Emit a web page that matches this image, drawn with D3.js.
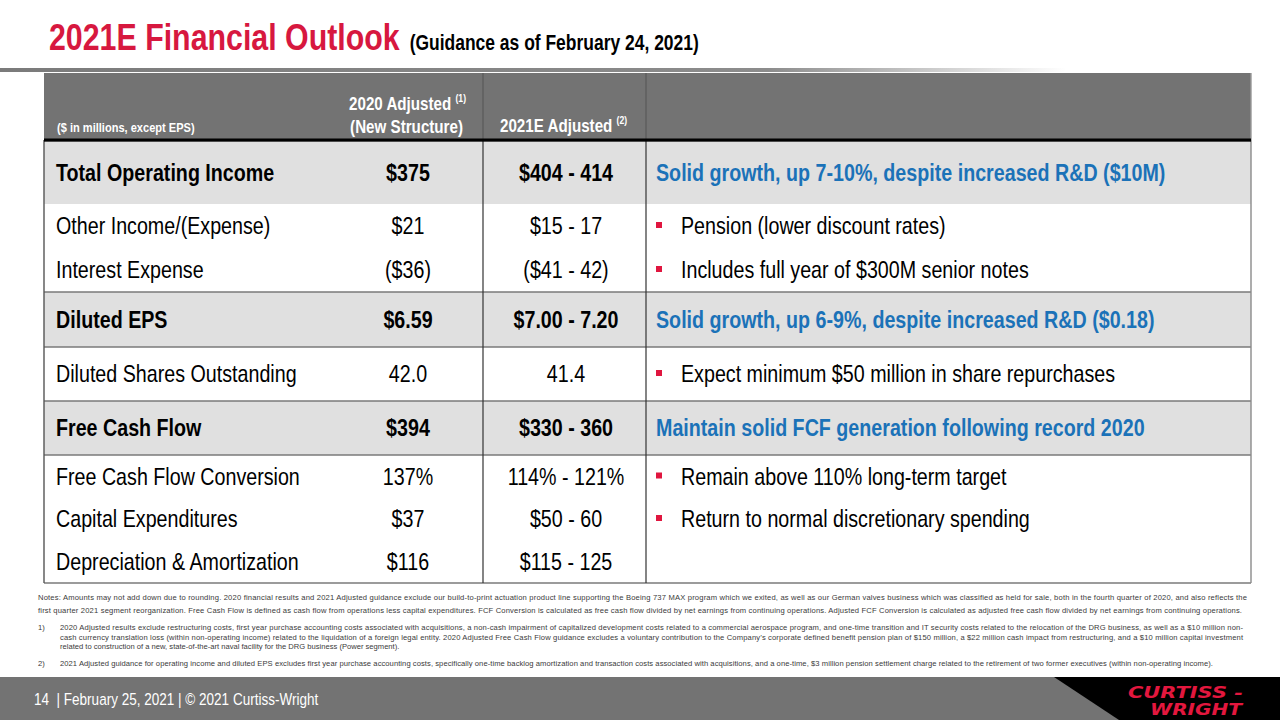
<!DOCTYPE html>
<html>
<head>
<meta charset="utf-8">
<script src="https://cdn.jsdelivr.net/npm/d3@7"></script>
<style>
  html, body { margin: 0; padding: 0; background: #fff; overflow: hidden; }
  svg { display: block; }
</style>
</head>
<body>
<svg id="slide" width="1280" height="720"></svg>
<script>
// ---- table content ----
const rowLabels = [
  'Total Operating Income', 'Other Income/(Expense)', 'Interest Expense',
  'Diluted EPS', 'Diluted Shares Outstanding', 'Free Cash Flow',
  'Free Cash Flow Conversion', 'Capital Expenditures', 'Depreciation & Amortization'
];
const values2020 = ['$375', '$21', '($36)', '$6.59', '42.0', '$394', '137%', '$37', '$116'];
const values2021 = ['$404 - 414', '$15 - 17', '($41 - 42)', '$7.00 - 7.20', '41.4', '$330 - 360', '114% - 121%', '$50 - 60', '$115 - 125'];
const comments = [
  'Solid growth, up 7-10%, despite increased R&D ($10M)',
  'Pension (lower discount rates)',
  'Includes full year of $300M senior notes',
  'Solid growth, up 6-9%, despite increased R&D ($0.18)',
  'Expect minimum $50 million in share repurchases',
  'Maintain solid FCF generation following record 2020',
  'Remain above 110% long-term target',
  'Return to normal discretionary spending',
  ''
];
const keyRows = [true, false, false, true, false, true, false, false, false];

const titleText = '2021E Financial Outlook';
const subtitleText = '(Guidance as of February 24, 2021)';
const footerText = '14  | February 25, 2021 | \u00A9 2021 Curtiss-Wright';

const noteLines = [
  { lead: '', text: 'Notes: Amounts may not add down due to rounding. 2020 financial results and 2021 Adjusted guidance exclude our build-to-print actuation product line supporting the Boeing 737 MAX program which we exited, as well as our German valves business which was classified as held for sale, both in the fourth quarter of 2020, and also reflects the', full: true },
  { lead: '', text: 'first quarter 2021 segment reorganization. Free Cash Flow is defined as cash flow from operations less capital expenditures. FCF Conversion is calculated as free cash flow divided by net earnings from continuing operations. Adjusted FCF Conversion is calculated as adjusted free cash flow divided by net earnings from continuing operations.', full: true },
  { lead: '1)', text: '2020 Adjusted results exclude restructuring costs, first year purchase accounting costs associated with acquisitions, a non-cash impairment of capitalized development costs related to a commercial aerospace program, and one-time transition and IT security costs related to the relocation of the DRG business, as well as a $10 million non-', full: true },
  { lead: '', text: 'cash currency translation loss (within non-operating income) related to the liquidation of a foreign legal entity. 2020 Adjusted Free Cash Flow guidance excludes a voluntary contribution to the Company\u2019s corporate defined benefit pension plan of $150 million, a $22 million cash impact from restructuring, and a $10 million capital investment', full: true },
  { lead: '', text: 'related to construction of a new, state-of-the-art naval facility for the DRG business (Power segment).', full: false },
  { lead: '2)', text: '2021 Adjusted guidance for operating income and diluted EPS excludes first year purchase accounting costs, specifically one-time backlog amortization and transaction costs associated with acquisitions, and a one-time, $3 million pension settlement charge related to the retirement of two former executives (within non-operating income).', full: true }
];

// ---- layout ----
const W = 1280, H = 720;
const NARROW = 0.82;                 // Arial Narrow ~ Arial at 82% width
const FONT = 'Liberation Sans, Arial, sans-serif';
const red = '#d7183f', blue = '#1b72b8';
const tableLeft = 44, tableRight = 1251;
const headTop = 73, headBottom = 140;
const bodyTop = 142;
const rowHeights = [62, 44, 44, 55, 54, 54, 43, 42, 43];
const rulesAbove = [3, 4, 5, 6];     // group separators

const rowTops = [bodyTop, ...Array.from(d3.cumsum(rowHeights)).map(s => bodyTop + s)];
const bodyBottom = rowTops[rowTops.length - 1];

const colX = d3.scaleOrdinal()
  .domain(['label', 'v2020', 'v2021', 'sep1', 'sep2', 'comment', 'bullet', 'bulletText'])
  .range([56, 408, 566, 483, 646, 656, 656, 681]);

const rowY = d3.scaleOrdinal()
  .domain(d3.range(rowLabels.length))
  .range(rowHeights.map((h, i) => rowTops[i] + h / 2));

const svg = d3.select('#slide');
const defs = svg.append('defs');

function ntext(parent, x, y, str, o) {
  return parent.append('text')
    .attr('transform', `translate(${x},${y}) scale(${NARROW},1)`)
    .attr('font-family', FONT)
    .attr('font-size', o.size)
    .attr('font-weight', o.bold ? 700 : 400)
    .attr('fill', o.color || '#000')
    .attr('text-anchor', o.anchor || 'start')
    .text(str);
}

// ---- title ----
const title = ntext(svg, 49, 50, titleText, { size: 37, bold: true, color: red });
const titleW = title.node().getComputedTextLength() * NARROW;
ntext(svg, 49 + titleW + 10, 50, subtitleText, { size: 21.3, bold: true });

// rule under the title, fading out to the right
const grad = defs.append('linearGradient').attr('id', 'ruleFade')
  .attr('x1', 0).attr('x2', 1).attr('y1', 0).attr('y2', 0);
grad.append('stop').attr('offset', 0).attr('stop-color', '#7b7b7b');
grad.append('stop').attr('offset', 0.72).attr('stop-color', '#8c8c8c');
grad.append('stop').attr('offset', 1).attr('stop-color', '#ffffff');
svg.append('rect').attr('x', 0).attr('y', 68).attr('width', 1066).attr('height', 4)
  .attr('fill', 'url(#ruleFade)');

// ---- header ----
svg.append('rect').attr('x', tableLeft).attr('y', headTop)
  .attr('width', tableRight - tableLeft).attr('height', headBottom - headTop)
  .attr('fill', '#737373');
[colX('sep1'), colX('sep2')].forEach(x => {
  svg.append('line').attr('x1', x).attr('x2', x).attr('y1', headTop).attr('y2', headBottom)
    .attr('stroke', '#555').attr('stroke-width', 1);
});

ntext(svg, 57, 132, '($ in millions, except EPS)', { size: 13.5, bold: true, color: '#fff' });

const h1 = ntext(svg, 466, 110, '2020 Adjusted ', { size: 18.5, bold: true, color: '#fff', anchor: 'end' });
h1.append('tspan').attr('font-size', 10.5).attr('dy', -8).text('(1)');
ntext(svg, 463, 133, '(New Structure)', { size: 18.5, bold: true, color: '#fff', anchor: 'end' });
const h2 = ntext(svg, 500, 132, '2021E Adjusted ', { size: 18.5, bold: true, color: '#fff' });
h2.append('tspan').attr('font-size', 10.5).attr('dy', -8).text('(2)');

// ---- body ----
const rows = svg.append('g');
rows.selectAll('rect.key')
  .data(d3.range(rowLabels.length).filter(i => keyRows[i]))
  .join('rect')
  .attr('class', 'key')
  .attr('x', tableLeft).attr('width', tableRight - tableLeft)
  .attr('y', i => rowTops[i]).attr('height', i => rowHeights[i])
  .attr('fill', '#e0e0e0');

// group separators and bottom rule
rows.selectAll('line.rule')
  .data(rulesAbove.map(i => rowTops[i]).concat([bodyBottom]))
  .join('line')
  .attr('class', 'rule')
  .attr('x1', tableLeft).attr('x2', tableRight)
  .attr('y1', d => d).attr('y2', d => d)
  .attr('stroke', '#7a7a7a').attr('stroke-width', 1.6);

// vertical column separators and borders
[
  { x: tableLeft, c: '#555', w: 1.4 },
  { x: colX('sep1'), c: '#333', w: 1.2 },
  { x: colX('sep2'), c: '#333', w: 1.2 },
  { x: tableRight, c: '#8a8a8a', w: 1.4 }
].forEach(v => {
  rows.append('line').attr('x1', v.x).attr('x2', v.x)
    .attr('y1', headBottom).attr('y2', bodyBottom)
    .attr('stroke', v.c).attr('stroke-width', v.w);
});
svg.append('line').attr('x1', tableRight).attr('x2', tableRight)
  .attr('y1', headTop).attr('y2', headBottom).attr('stroke', '#999').attr('stroke-width', 1.4);

// thick line under header
svg.append('rect').attr('x', tableLeft).attr('y', headBottom - 1.5)
  .attr('width', tableRight - tableLeft).attr('height', 3.2).attr('fill', '#000');

rowLabels.forEach((lab, i) => {
  const y = rowY(i) + 8;
  const bold = keyRows[i];
  ntext(rows, colX('label'), y, lab, { size: 24, bold });
  ntext(rows, colX('v2020'), y, values2020[i], { size: 24, bold, anchor: 'middle' });
  ntext(rows, colX('v2021'), y, values2021[i], { size: 24, bold, anchor: 'middle' });
  if (!comments[i]) return;
  if (bold) {
    ntext(rows, colX('comment'), y, comments[i], { size: 24, bold: true, color: blue });
  } else {
    rows.append('rect').attr('x', colX('bullet')).attr('y', rowY(i) - 4)
      .attr('width', 6).attr('height', 6).attr('fill', '#e0163f');
    ntext(rows, colX('bulletText'), y, comments[i], { size: 24 });
  }
});

// ---- notes ----
const noteBase = [600, 613, 630, 640, 649, 666];
const noteWidth = [1209, 1204, 1183, 1183, 0, 1153];
const notesG = svg.append('g')
  .attr('font-family', FONT).attr('font-size', 7.6).attr('fill', '#3a3a3a');
noteLines.forEach((n, i) => {
  const x = n.lead || i >= 2 ? 60 : 38;
  if (n.lead) notesG.append('text').attr('x', 38).attr('y', noteBase[i]).text(n.lead);
  const t = notesG.append('text').attr('x', x).attr('y', noteBase[i]).text(n.text);
  if (n.full) t.attr('textLength', noteWidth[i]).attr('lengthAdjust', 'spacing');
});

// ---- footer ----
svg.append('rect').attr('x', 0).attr('y', 677).attr('width', W).attr('height', H - 677)
  .attr('fill', '#737373');
svg.append('polygon')
  .attr('points', [[1054, 677], [W, 677], [W, H], [1119, H]].map(p => p.join(',')).join(' '))
  .attr('fill', '#000');
ntext(svg, 34, 705, footerText, { size: 16.5, color: '#fff' })
  .attr('xml:space', 'preserve').style('white-space', 'pre');

const logo = svg.append('g')
  .attr('font-family', 'DejaVu Sans, sans-serif')
  .attr('font-weight', 700).attr('font-style', 'italic').attr('fill', '#e3173e');
logo.append('text').attr('x', 1128).attr('y', 698).attr('font-size', 15.5)
  .attr('textLength', 115).attr('lengthAdjust', 'spacingAndGlyphs').text('CURTISS -');
logo.append('text').attr('x', 1150).attr('y', 715).attr('font-size', 15.5)
  .attr('textLength', 92).attr('lengthAdjust', 'spacingAndGlyphs').text('WRIGHT');
</script>
</body>
</html>
